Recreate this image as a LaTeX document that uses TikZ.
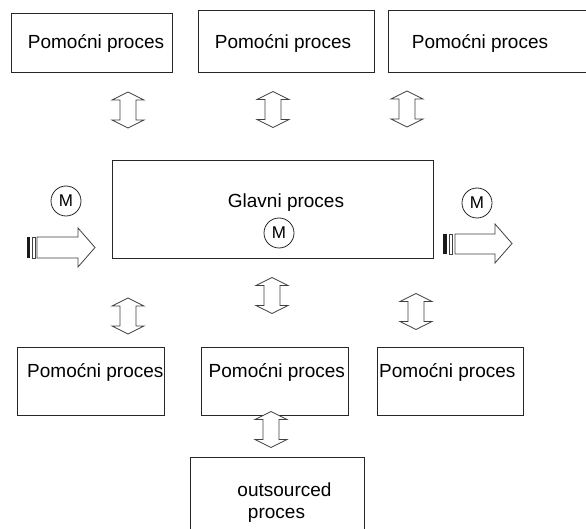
\documentclass[tikz,border=0pt]{standalone}
\usepackage{fontspec}
\setmainfont{Liberation Sans}
\newcommand\udarrow[2]{\draw[blk] (#1,#2) ++(0,-18) -- ++(16,8) -- ++(-8,0) -- ++(0,20) -- ++(8,0) -- ++(-16,8) -- ++(-16,-8) -- ++(8,0) -- ++(0,-20) -- ++(-8,0) -- cycle;}
\begin{document}
\begin{tikzpicture}[x=1pt,y=-1pt,
  box/.style={draw=black!85, line width=0.9pt, inner sep=0pt},
  lbl/.style={font=\fontsize{19}{22}\selectfont, inner sep=0pt},
  mcirc/.style={draw=black!85, circle, line width=0.8pt, minimum size=30pt, inner sep=0pt, font=\fontsize{17}{20}\selectfont},
  blk/.style={draw=black!75, line width=0.8pt, fill=white, line join=miter}]
\useasboundingbox (0,0) rectangle (586,529);
\clip (0,0) rectangle (586,529);
% top boxes
\node[box, minimum width=161pt, minimum height=59pt] (t1) at (91.5,42.5) {};
\node[lbl] (t1l) at (96,43) {Pomoćni proces};
\node[box, minimum width=176pt, minimum height=62pt] (t2) at (286,41) {};
\node[lbl] (t2l) at (283,43) {Pomoćni proces};
\node[box, minimum width=212pt, minimum height=62pt] (t3) at (494,41) {};
\node[lbl] (t3l) at (480,43) {Pomoćni proces};
% main box
\node[box, minimum width=321pt, minimum height=98pt] (main) at (272.5,209) {};
\node[lbl] (mainl) at (286,203) {Glavni proces};
\node[mcirc] (m0) at (279,233) {M};
\node[mcirc] (ml) at (66,201) {M};
\node[mcirc] (mr) at (477,203) {M};
% bottom boxes
\node[box, minimum width=147pt, minimum height=68pt] (b1) at (90.5,381) {};
\node[lbl, anchor=west] (b1l) at (27,372) {Pomoćni proces};
\node[box, minimum width=147pt, minimum height=68pt] (b2) at (274.5,381) {};
\node[lbl, anchor=west] (b2l) at (208.5,372) {Pomoćni proces};
\node[box, minimum width=146pt, minimum height=68pt] (b3) at (450,381) {};
\node[lbl, anchor=west] (b3l) at (379,372) {Pomoćni proces};
% outsourced
\node[box, minimum width=174pt, minimum height=103pt] (o) at (277,508.5) {};
\node[lbl] (ol1) at (284.5,490) {outsourced};
\node[lbl] (ol2) at (276.5,515) {proces};
% double arrows
\udarrow{128}{110}
\udarrow{273}{109.5}
\udarrow{407}{109}
\udarrow{272}{295.5}
\udarrow{128}{316}
\udarrow{416}{311.5}
\udarrow{271}{429.5}
% striped arrows
\fill[black!90] (27,237) rectangle (30,258);
\draw[blk] (32.5,237) rectangle (35,258);
\draw[blk] (37,237) -- (78,237) -- (78,228) -- (95,247.5) -- (78,267) -- (78,258) -- (37,258) -- cycle;
\fill[black!90] (443,234) rectangle (446.5,254);
\draw[blk] (449.5,234) rectangle (452.5,254);
\draw[blk] (455,234) -- (495,234) -- (495,224) -- (512,243.5) -- (495,263) -- (495,254) -- (455,254) -- cycle;
\end{tikzpicture}
\end{document}
